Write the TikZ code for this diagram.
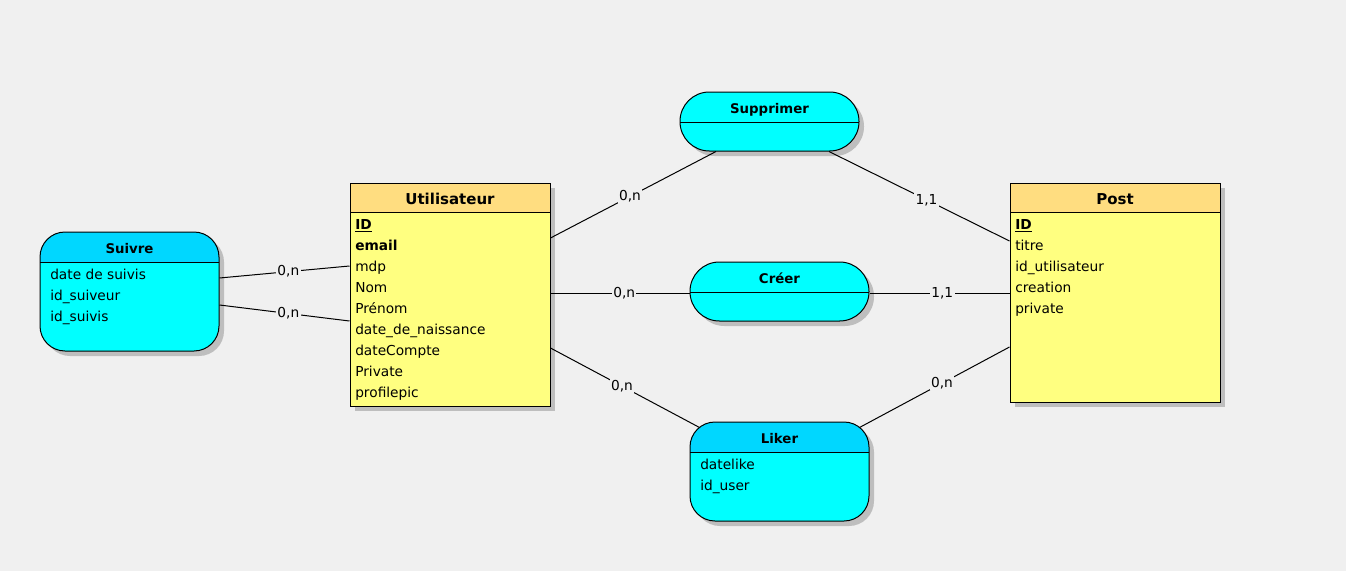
\documentclass[tikz,border=0pt]{standalone}
\usepackage{fontspec}
\setmainfont{DejaVu Sans}
\usetikzlibrary{fit,shadows}

\definecolor{fond}{RGB}{240,240,240}
\definecolor{enttete}{RGB}{255,221,128}
\definecolor{entcorps}{RGB}{255,255,128}
\definecolor{asstete}{RGB}{0,215,255}
\definecolor{asscorps}{RGB}{0,255,255}
\definecolor{ombre}{RGB}{190,190,190}

\tikzset{
  ombrage/.style={drop shadow={shadow xshift=3.75pt, shadow yshift=-3.75pt, fill=ombre, opacity=1}},
  entete/.style 2 args={path picture={
      \fill[#1, sharp corners] (path picture bounding box.north west) rectangle ([yshift=-#2]path picture bounding box.north east);
      \draw[line width=.75pt, sharp corners] ([yshift=-#2]path picture bounding box.north west) -- ([yshift=-#2]path picture bounding box.north east);}},
  entite/.style={draw, line width=.75pt, fill=entcorps, inner sep=0pt, ombrage, entete={enttete}{21.75pt}},
  assoc/.style={draw, line width=.75pt, fill=asscorps, inner sep=0pt, rounded corners=18.75pt, ombrage, entete={asstete}{22.5pt}},
  capsule/.style={draw, line width=.75pt, fill=asscorps, inner sep=0pt, rounded corners=22pt, ombrage, entete={asscorps}{22.5pt}},
  titre/.style={anchor=base, inner sep=0pt, font=\fontsize{11.25}{13}\selectfont\bfseries},
  titreassoc/.style={anchor=base, inner sep=0pt, font=\fontsize{10}{12}\selectfont\bfseries},
  attr/.style={anchor=base west, inner sep=0pt, font=\fontsize{10.3}{12}\selectfont},
  lien/.style={line width=.75pt},
  card/.style={fill=fond, inner sep=1pt, font=\fontsize{10.3}{12}\selectfont}
}

\begin{document}
\begin{tikzpicture}[x=0.75pt, y=-0.75pt]
  \path[use as bounding box, fill=fond] (0,0) rectangle (1346,571);

  % entites
  \node[entite, fit={(350,183) (550,406)}] (util) {};
  \node[entite, fit={(1010,183) (1220,402)}] (post) {};
  % associations
  \node[assoc, fit={(40,232) (219,351)}] (suivre) {};
  \node[assoc, fit={(690,422) (869,521)}] (liker) {};
  \node[capsule, fit={(680,92) (859,151)}] (supp) {};
  \node[capsule, fit={(690,262) (869,321)}] (creer) {};

  % titres
  \node[titre] (util-t) at (util.north |- 0,204) {Utilisateur};
  \node[titre] (post-t) at (post.north |- 0,204) {Post};
  \node[titreassoc] (suivre-t) at (suivre.north |- 0,253) {Suivre};
  \node[titreassoc] (liker-t) at (liker.north |- 0,443) {Liker};
  \node[titreassoc] (supp-t) at (supp.north |- 0,113) {Supprimer};
  \node[titreassoc] (creer-t) at (creer.north |- 0,283) {Créer};

  % attributs
  \foreach \a [count=\i] in {{\textbf{\underline{ID}}}, {\textbf{email}}, mdp, Nom, Prénom, date\_de\_naissance, dateCompte, Private, profilepic}
    \node[attr] (util-a\i) at (355,{208+21*\i}) {\a};
  \foreach \a [count=\i] in {{\textbf{\underline{ID}}}, titre, id\_utilisateur, creation, private}
    \node[attr] (post-a\i) at (1015,{208+21*\i}) {\a};
  \foreach \a [count=\i] in {date de suivis, id\_suiveur, id\_suivis}
    \node[attr] (suivre-a\i) at (50,{258+21*\i}) {\a};
  \foreach \a [count=\i] in {datelike, id\_user}
    \node[attr] (liker-a\i) at (700,{448+21*\i}) {\a};

  % liens
  \draw[lien] (suivre.east |- 0,278) -- node[card, pos=.53] {0,n} (util.west |- 0,266);
  \draw[lien] (suivre.east |- 0,305) -- node[card, pos=.53] {0,n} (util.west |- 0,321);
  \draw[lien] (util.east |- 0,238) -- node[card, pos=.48] {0,n} (supp.south -| 716,0);
  \draw[lien] (supp.south -| 829,0) -- node[card, pos=.54] {1,1} (post.west |- 0,241);
  \draw[lien] (util.east |- 0,293) -- node[card, pos=.53] {0,n} (creer.west |- 0,293);
  \draw[lien] (creer.east |- 0,293) -- node[card, pos=.52] {1,1} (post.west |- 0,293);
  \draw[lien] (util.east |- 0,348) -- node[card, pos=.48] {0,n} ([shift={(10,6)}]liker.north west);
  \draw[lien] ([shift={(-10,6)}]liker.north east) -- node[card, pos=.55] {0,n} (post.west |- 0,347);
\end{tikzpicture}
\end{document}
